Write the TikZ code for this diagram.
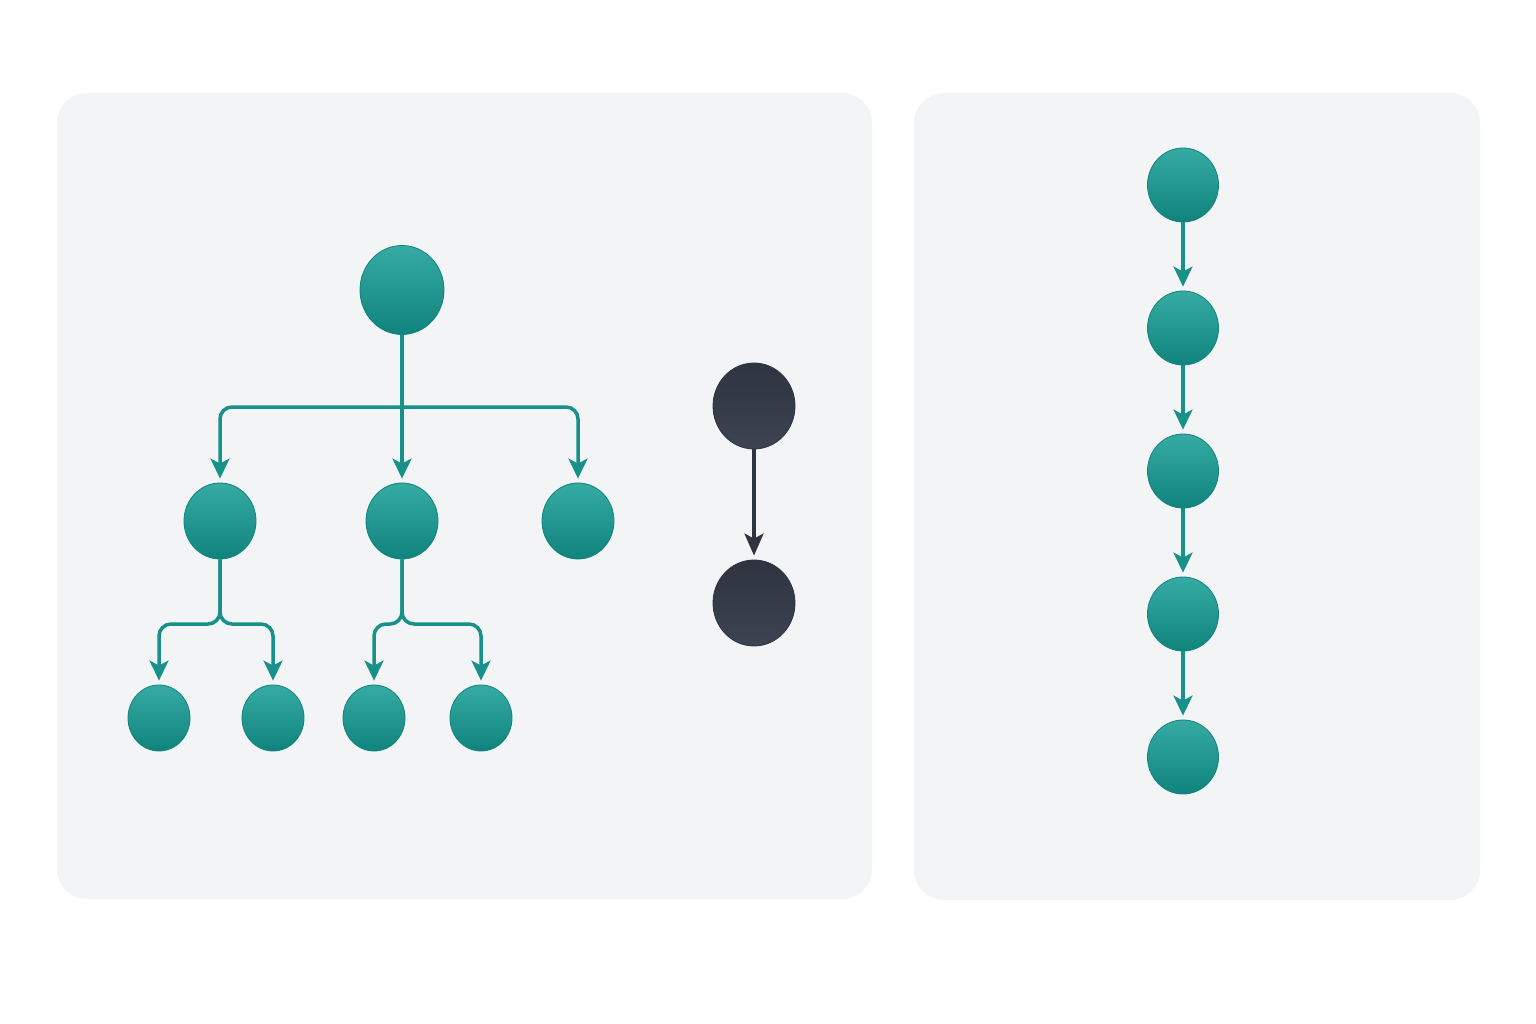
\documentclass[tikz,border=0pt]{standalone}
\usetikzlibrary{arrows.meta,calc,shapes.geometric}
\definecolor{panelbg}{HTML}{F3F4F6}
\definecolor{tealtop}{HTML}{36ABA3}
\definecolor{tealbot}{HTML}{10847C}
\definecolor{tealline}{HTML}{17918A}
\definecolor{darktop}{HTML}{2E3440}
\definecolor{darkbot}{HTML}{3C4452}
\definecolor{darkline}{HTML}{2F3540}
\tikzset{
  panel/.style={fill=panelbg, rounded corners=30pt},
  tnode/.style={ellipse, inner sep=0pt, top color=tealtop, bottom color=tealbot, draw=tealbot, line width=0.8pt},
  dnode/.style={ellipse, inner sep=0pt, top color=darktop, bottom color=darkbot, draw=darkline, line width=0.8pt},
  big/.style={minimum width=84pt, minimum height=89pt},
  mid/.style={minimum width=72pt, minimum height=76pt},
  small/.style={minimum width=62pt, minimum height=66pt},
  dark/.style={minimum width=82pt, minimum height=86pt},
  chain/.style={minimum width=71pt, minimum height=74pt},
  tline/.style={draw=tealline, line width=3.5pt},
  tarrow/.style={tline, rounded corners=12pt, shorten >=4pt,
    -{Stealth[length=20pt,width=19pt,inset=5pt]}},
  darrow/.style={draw=darkline, line width=3.5pt, shorten >=4pt,
    -{Stealth[length=22pt,width=19pt,inset=5pt]}},
}
\begin{document}
\begin{tikzpicture}[x=1pt,y=-1pt]
\useasboundingbox (0,0) rectangle (1536,1024);
\fill[white] (0,0) rectangle (1536,1024);
\fill[panel] (57,93) rectangle (872,899);
\fill[panel] (914,93) rectangle (1480,900);

% tree
\node[tnode,big] (root) at (402,290) {};
\node[tnode,mid] (a) at (220,521) {};
\node[tnode,mid] (b) at (402,521) {};
\node[tnode,mid] (c) at (578,521) {};
\node[tnode,small] (a1) at (159,718) {};
\node[tnode,small] (a2) at (273,718) {};
\node[tnode,small] (b1) at (374,718) {};
\node[tnode,small] (b2) at (481,718) {};

\coordinate (j0) at (402,407);
\coordinate (ja) at (220,624);
\coordinate (jb) at (402,624);

\draw[tline] (root.south) -- (j0);
\draw[tarrow] (j0) -| (a.north);
\draw[tarrow] (root.south) -- (b.north);
\draw[tarrow] (j0) -| (c.north);
\draw[tarrow] (a.south) -- (ja) -| (a1.north);
\draw[tarrow] (a.south) -- (ja) -| (a2.north);
\draw[tarrow] (b.south) -- (jb) -| (b1.north);
\draw[tarrow] (b.south) -- (jb) -| (b2.north);

% dark pair
\node[dnode,dark] (d1) at (754,406) {};
\node[dnode,dark] (d2) at (754,603) {};
\draw[darrow] (d1.south) -- (d2.north);

% chain
\node[tnode,chain] (r1) at (1183,185) {};
\node[tnode,chain] (r2) at (1183,328) {};
\node[tnode,chain] (r3) at (1183,471) {};
\node[tnode,chain] (r4) at (1183,614) {};
\node[tnode,chain] (r5) at (1183,757) {};
\draw[tarrow] (r1.south) -- (r2.north);
\draw[tarrow] (r2.south) -- (r3.north);
\draw[tarrow] (r3.south) -- (r4.north);
\draw[tarrow] (r4.south) -- (r5.north);
\end{tikzpicture}
\end{document}
